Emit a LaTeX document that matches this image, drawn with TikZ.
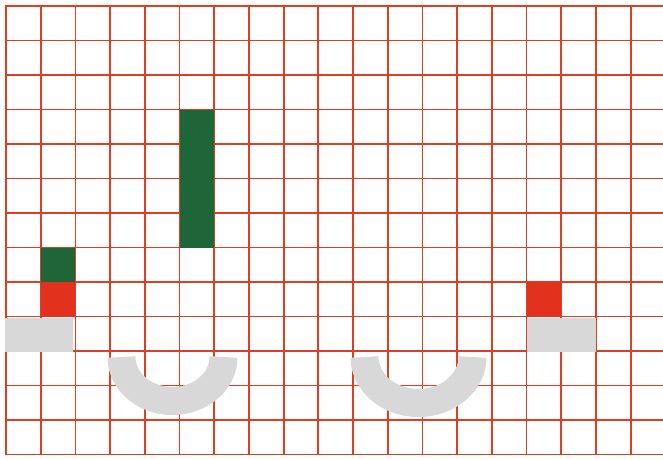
\documentclass[tikz,border=0pt]{standalone}
\definecolor{gridred}{RGB}{222,62,34}
\definecolor{dgreen}{RGB}{30,102,56}
\definecolor{bred}{RGB}{226,50,30}
\definecolor{lgrey}{RGB}{216,216,216}
\begin{document}
\begin{tikzpicture}[x=1pt,y=1pt,
  gridline/.style={draw=gridred,line width=1.8pt},
  block/.style={draw=none},
  ushape/.style={draw=lgrey,line width=28pt,line cap=butt}]
\useasboundingbox (0,0) rectangle (663,-459);
\fill[white] (0,0) rectangle (663,-459);
% grid
\foreach \i in {0,...,18}
  \draw[gridline] ({6+34.7*\i},-5.1) -- ({6+34.7*\i},-455.4);
\foreach \j in {0,...,13}
  \draw[gridline] (5.1,{-6-34.5*\j}) -- (663,{-6-34.5*\j});
% blocks
\fill[dgreen] (179.5,-109.5) rectangle (214.2,-247.5);
\fill[dgreen] (40.7,-247.5) rectangle (75.4,-282);
\fill[bred] (40.7,-282) rectangle (75.4,-316.5);
\fill[bred] (526.5,-282) rectangle (561.2,-316.5);
\fill[lgrey] (5,-318) rectangle (73,-352);
\fill[lgrey] (526.5,-318) rectangle (596,-352);
% U shapes
\draw[ushape] (121.5,-357) arc[start angle=180,end angle=360,x radius=51,y radius=44];
\draw[ushape] (364.5,-357) arc[start angle=180,end angle=360,x radius=54,y radius=46];
\end{tikzpicture}
\end{document}
